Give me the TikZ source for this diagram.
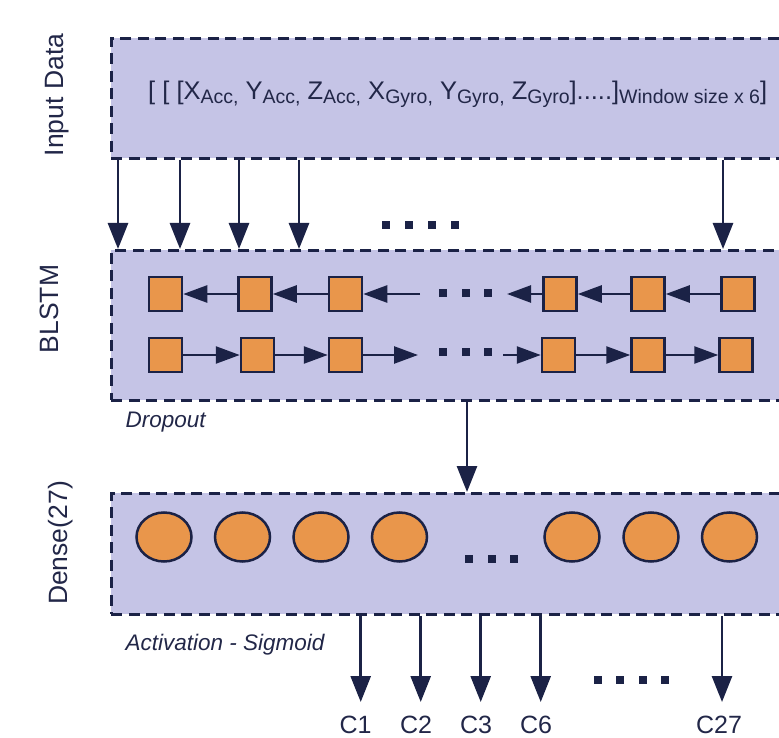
\documentclass[tikz,border=0pt]{standalone}
\usepackage{fontspec}
\setmainfont{Liberation Sans}
\usetikzlibrary{arrows.meta,shapes.geometric}
\definecolor{layerfill}{RGB}{197,196,230}
\definecolor{navy}{RGB}{27,34,70}
\definecolor{unitorange}{RGB}{233,150,75}
\definecolor{inktext}{RGB}{34,39,72}
\newcommand\acsub[1]{\raisebox{-4pt}{\fontsize{19.5}{21}\selectfont #1}}

\begin{document}
\begin{tikzpicture}[x=1pt,y=-1pt,
  layer/.style={fill=layerfill,draw=navy,line width=2.8pt,
    dash pattern=on 11pt off 6.5pt,anchor=north west,inner sep=0pt},
  cell/.style={draw=navy,fill=unitorange,line width=2.5pt,
    minimum width=33pt,minimum height=34pt,inner sep=0pt},
  neuron/.style={ellipse,draw=navy,fill=unitorange,line width=2.5pt,
    minimum width=55pt,minimum height=49pt,inner sep=0pt},
  flow/.style={draw=navy,line width=2.8pt,-{Triangle[length=26pt,width=20pt]}},
  chain/.style={draw=navy,line width=2.5pt,-{Triangle[length=24pt,width=17pt]}},
  dotmark/.style={fill=navy,draw=none,minimum size=8pt,inner sep=0pt},
  sidelabel/.style={rotate=90,anchor=base,font=\fontsize{26.5}{30}\selectfont,text=inktext},
  note/.style={anchor=base west,font=\itshape\fontsize{22.5}{26}\selectfont,text=inktext},
  outlabel/.style={anchor=base,font=\fontsize{25}{28}\selectfont,text=inktext},
]
\useasboundingbox (0,0) rectangle (779,738);
\clip (0,0) rectangle (779,738);

% layer panels (they run past the right edge)
\node[layer,minimum width=720pt,minimum height=120pt] (inbox) at (110,37) {};
\node[layer,minimum width=720pt,minimum height=150pt] (blstm) at (110,249) {};
\node[layer,minimum width=720pt,minimum height=121pt] (dense) at (110,492) {};

% side titles
\node[sidelabel] (tIn) at (63,95) {Input Data};
\node[sidelabel] (tBl) at (58,309) {BLSTM};
\node[sidelabel] (tDe) at (67,543) {Dense(27)};

% input tensor
\node[anchor=base west,inner sep=0pt,text=inktext,font=\fontsize{25.5}{28}\selectfont] (tensor) at (148,100)
  {[ [ [X\acsub{Acc,} Y\acsub{Acc,} Z\acsub{Acc,} X\acsub{Gyro,} Y\acsub{Gyro,} Z\acsub{Gyro}].....]\acsub{Window size x 6}]};

% input -> BLSTM arrows
\foreach \x [count=\i] in {118,180,239,299,723} {
  \coordinate (ic\i) at (\x,0);
  \draw[flow] (ic\i |- inbox.south) -- (ic\i |- blstm.north);
}
\foreach \x [count=\i] in {386,409,432,455}
  \node[dotmark] (dIn\i) at (\x,225) {};

% backward chain (top row)
\foreach \x [count=\i] in {165.5,255,345.5,560,648,738}
  \node[cell] (t\i) at (\x,294) {};
% forward chain (bottom row)
\foreach \x [count=\i] in {165.5,257.5,345.5,558.5,648,736}
  \node[cell] (b\i) at (\x,355) {};

\coordinate (tgapR) at (420,294);
\coordinate (tgapL) at (507,294);
\coordinate (bgapR) at (418,355);
\coordinate (bgapL) at (503,355);

\draw[chain] (t2.west) -- (t1.east);
\draw[chain] (t3.west) -- (t2.east);
\draw[chain] (tgapR) -- (t3.east);
\draw[chain] (t4.west) -- (tgapL);
\draw[chain] (t5.west) -- (t4.east);
\draw[chain] (t6.west) -- (t5.east);

\draw[chain] (b1.east) -- (b2.west);
\draw[chain] (b2.east) -- (b3.west);
\draw[chain] (b3.east) -- (bgapR);
\draw[chain] (bgapL) -- (b4.west);
\draw[chain] (b4.east) -- (b5.west);
\draw[chain] (b5.east) -- (b6.west);

\foreach \x [count=\i] in {443,466,488} {
  \node[dotmark] (dT\i) at (\x,293) {};
  \node[dotmark] (dB\i) at (\x,352) {};
}

\node[note] (drop) at (122,427) {Dropout};

% BLSTM -> Dense
\coordinate (mid) at (467,0);
\draw[flow] (mid |- blstm.south) -- (mid |- dense.north);

% dense units
\foreach \x [count=\i] in {164,242.5,321,399.5,572,651,729.5}
  \node[neuron] (n\i) at (\x,537) {};
\foreach \x [count=\i] in {469,492,514}
  \node[dotmark] (dD\i) at (\x,559) {};

\node[note] (act) at (122,650) {Activation - Sigmoid};

% outputs
\foreach \x/\lx/\lab [count=\i] in {360.7/355.5/C1,420.7/416/C2,480.7/476/C3,540.7/536/C6,722/719/C27} {
  \coordinate (oc\i) at (\x,702);
  \draw[flow] (oc\i |- dense.south) -- (oc\i);
  \node[outlabel] (c\i) at (\lx,733) {\lab};
}
\foreach \x [count=\i] in {598,620,643,665}
  \node[dotmark] (dOut\i) at (\x,680) {};
\end{tikzpicture}
\end{document}
